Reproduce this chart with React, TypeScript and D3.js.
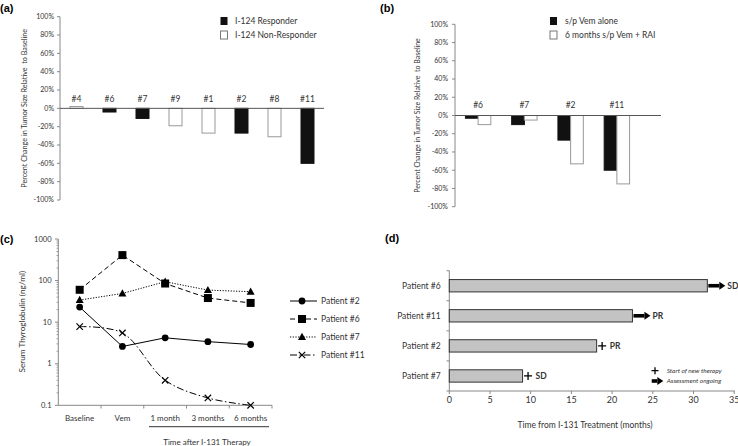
import React, { useEffect } from "react";
import * as d3 from "d3";

// (a) tumor size change per patient
const aPatients = ["#4", "#6", "#7", "#9", "#1", "#2", "#8", "#11"];
const aChange = [2, -4, -11, -19, -27, -27, -31, -60];
const aResponder = [false, true, true, false, false, true, false, true];

// (b) vem alone vs vem + RAI
const bPatients = ["#6", "#7", "#2", "#11"];
const bVemAlone = [-3, -10, -27, -60];
const bVemRai = [-10, -5, -53, -75];

// (c) serum thyroglobulin
const cTimes = ["Baseline", "Vem", "1 month", "3 months", "6 months"];
const cPatient2 = [23, 2.6, 4.2, 3.4, 2.9];
const cPatient6 = [60, 410, 85, 38, 29];
const cPatient7 = [34, 49, 94, 59, 54];
const cPatient11 = [7.8, 5.5, 0.4, 0.15, 0.1];

// (d) time from I-131 treatment
const dPatients = ["Patient #6", "Patient #11", "Patient #2", "Patient #7"];
const dMonths = [31.7, 22.5, 18.1, 9.0];
const dStatus = ["SD", "PR", "PR", "SD"];
const dOngoing = [true, true, false, false];

const pctTicks = [-100, -80, -60, -40, -20, 0, 20, 40, 60, 80, 100];
const FONT = "Lato, 'Open Sans', sans-serif";
const TXT = "#333";
const AX = "#888";

function Plus({ x, y, s = 4 }: { x: number; y: number; s?: number }) {
  return (
    <path
      d={`M${x - s},${y} L${x + s},${y} M${x},${y - s} L${x},${y + s}`}
      stroke="#000"
      strokeWidth={1.3}
    />
  );
}

function Arrow({ x0, x1, y }: { x0: number; x1: number; y: number }) {
  const head = 6;
  return (
    <g>
      <line x1={x0} x2={x1 - head} y1={y} y2={y} stroke="#000" strokeWidth={3.6} />
      <path d={`M${x1 - head},${y - 4} L${x1},${y} L${x1 - head},${y + 4} Z`} fill="#000" />
    </g>
  );
}

function Marker({ kind, x, y }: { kind: string; x: number; y: number }) {
  if (kind === "circle") return <circle cx={x} cy={y} r={3.4} fill="#000" />;
  if (kind === "square") return <rect x={x - 4} y={y - 4} width={8} height={8} fill="#000" />;
  if (kind === "triangle")
    return <path d={`M${x},${y - 4.2} L${x + 4},${y + 3} L${x - 4},${y + 3} Z`} fill="#000" />;
  return (
    <path
      d={`M${x - 3.2},${y - 3.2} L${x + 3.2},${y + 3.2} M${x - 3.2},${y + 3.2} L${x + 3.2},${y - 3.2}`}
      stroke="#000"
      strokeWidth={1.2}
    />
  );
}

function PanelA() {
  const x = d3.scaleBand().domain(aPatients).range([60, 324]).padding(0);
  const y = d3.scaleLinear().domain([-100, 100]).range([200, 16.7]);
  const bw = 13;
  return (
    <g fontFamily={FONT}>
      <text x={0} y={12} fontFamily="'Liberation Sans', Arial, sans-serif" fontWeight="bold" fontSize={11} fill="#000">
        (a)
      </text>
      <line x1={60} x2={60} y1={y(100)} y2={y(-100)} stroke={AX} />
      {pctTicks.map((t) => (
        <g key={t}>
          <line x1={57} x2={60} y1={y(t)} y2={y(t)} stroke={AX} />
          <text x={54} y={y(t)} dy="0.35em" textAnchor="end" fontSize={7} fill={TXT}>
            {t + "%"}
          </text>
        </g>
      ))}
      <text
        transform={`translate(24,${y(0)}) rotate(-90)`}
        textAnchor="middle"
        dy="0.35em"
        fontSize={7.2}
        fill={TXT}
        xmlSpace="preserve"
      >
        {"Percent Change in Tumor Size Relative  to Baseline"}
      </text>
      {aPatients.map((p, i) => {
        const cx = (x(p) as number) + x.bandwidth() / 2;
        const v = aChange[i];
        const y0 = Math.min(y(0), y(v));
        const h = Math.abs(y(v) - y(0));
        return (
          <g key={p}>
            <rect
              x={cx - bw / 2}
              y={y0}
              width={bw}
              height={h}
              fill={aResponder[i] ? "#111" : "#fff"}
              stroke={aResponder[i] ? "#111" : "#999"}
              strokeWidth={1}
            />
            <text x={cx} y={y(0) - 6} textAnchor="middle" fontSize={8.5} fill={TXT}>
              {p}
            </text>
          </g>
        );
      })}
      <line x1={60} x2={324} y1={y(0)} y2={y(0)} stroke="#555" />
      <rect x={220.5} y={17} width={7} height={8} fill="#111" />
      <rect x={220.5} y={31} width={7} height={8} fill="#fff" stroke="#777" />
      <text x={235} y={21} dy="0.35em" fontSize={8.5} fill={TXT}>I-124 Responder</text>
      <text x={235} y={35} dy="0.35em" fontSize={8.5} fill={TXT}>I-124 Non-Responder</text>
    </g>
  );
}

function PanelB() {
  const x = d3.scaleBand().domain(bPatients).range([455, 640]).padding(0);
  const y = d3.scaleLinear().domain([-100, 100]).range([206.7, 24.3]);
  const bw = 12.7;
  return (
    <g fontFamily={FONT}>
      <text x={380} y={12} fontFamily="'Liberation Sans', Arial, sans-serif" fontWeight="bold" fontSize={11} fill="#000">
        (b)
      </text>
      <line x1={455} x2={455} y1={y(100)} y2={y(-100)} stroke={AX} />
      {pctTicks.map((t) => (
        <g key={t}>
          <line x1={452} x2={455} y1={y(t)} y2={y(t)} stroke={AX} />
          <text x={448} y={y(t)} dy="0.35em" textAnchor="end" fontSize={7} fill={TXT}>
            {t + "%"}
          </text>
        </g>
      ))}
      <text
        transform={`translate(418,${y(0)}) rotate(-90)`}
        textAnchor="middle"
        dy="0.35em"
        fontSize={7}
        fill={TXT}
        xmlSpace="preserve"
      >
        {"Percent Change in Tumor Size Relative  to Baseline"}
      </text>
      {bPatients.map((p, i) => {
        const cx = (x(p) as number) + x.bandwidth() / 2;
        return (
          <g key={p}>
            <rect x={cx - bw} y={y(0)} width={bw} height={y(bVemAlone[i]) - y(0)} fill="#111" stroke="#111" />
            <rect x={cx} y={y(0)} width={bw} height={y(bVemRai[i]) - y(0)} fill="#fff" stroke="#999" />
            <text x={cx} y={y(0) - 8} textAnchor="middle" fontSize={8.5} fill={TXT}>
              {p}
            </text>
          </g>
        );
      })}
      <line x1={455} x2={661} y1={y(0)} y2={y(0)} stroke="#555" />
      <rect x={550} y={17} width={7} height={8} fill="#111" />
      <rect x={550} y={31} width={7} height={8} fill="#fff" stroke="#777" />
      <text x={565} y={21} dy="0.35em" fontSize={8.5} fill={TXT}>s/p Vem alone</text>
      <text x={565} y={35} dy="0.35em" fontSize={8.5} fill={TXT}>6 months s/p Vem + RAI</text>
    </g>
  );
}

function PanelC() {
  const x = d3.scaleBand().domain(cTimes).range([58.3, 272]).padding(0);
  const y = d3.scaleLog().domain([0.1, 1000]).range([405.3, 239]);
  const cx = (t: string) => (x(t) as number) + x.bandwidth() / 2;
  const series = [
    { name: "Patient #2", values: cPatient2, dash: "", marker: "circle", smooth: false },
    { name: "Patient #6", values: cPatient6, dash: "5,3", marker: "square", smooth: false },
    { name: "Patient #7", values: cPatient7, dash: "1.2,1.5", marker: "triangle", smooth: false },
    { name: "Patient #11", values: cPatient11, dash: "7,2.5,1.5,2.5", marker: "x", smooth: true },
  ];
  const majors = [0.1, 1, 10, 100, 1000];
  const minors: number[] = [];
  [0.1, 1, 10, 100].forEach((m) => {
    for (let k = 2; k <= 9; k++) minors.push(m * k);
  });
  return (
    <g fontFamily={FONT}>
      <text x={0} y={243} fontFamily="'Liberation Sans', Arial, sans-serif" fontWeight="bold" fontSize={11} fill="#000">
        (c)
      </text>
      <line x1={58.3} x2={58.3} y1={239} y2={405.3} stroke={AX} />
      {minors.map((t) => (
        <line key={t} x1={56.5} x2={58.3} y1={y(t)} y2={y(t)} stroke={AX} strokeWidth={0.8} />
      ))}
      {majors.map((t) => (
        <g key={t}>
          <line x1={55} x2={58.3} y1={y(t)} y2={y(t)} stroke={AX} />
          <text x={51.5} y={y(t)} dy="0.35em" textAnchor="end" fontSize={7.5} fill={TXT}>
            {String(t)}
          </text>
        </g>
      ))}
      <text
        transform={`translate(22,321.7) rotate(-90)`}
        textAnchor="middle"
        dy="0.35em"
        fontSize={8.2}
        fill={TXT}
      >
        Serum Thyroglobulin (ng/ml)
      </text>
      <line x1={58.3} x2={272} y1={405.3} y2={405.3} stroke={AX} />
      {cTimes.map((t) => (
        <g key={t}>
          <line x1={(x(t) as number) + x.bandwidth()} x2={(x(t) as number) + x.bandwidth()} y1={405.3} y2={408.5} stroke={AX} />
          <text x={cx(t)} y={418} dy="0.35em" textAnchor="middle" fontSize={8} fill={TXT}>
            {t}
          </text>
        </g>
      ))}
      <line x1={149} x2={269} y1={426.7} y2={426.7} stroke="#333" />
      <text x={207} y={442} dy="0.35em" textAnchor="middle" fontSize={8} fill={TXT}>
        Time after I-131 Therapy
      </text>
      {series.map((s) => {
        const line = d3
          .line<number>()
          .x((_, i) => cx(cTimes[i]))
          .y((v) => y(v))
          .curve(s.smooth ? d3.curveCatmullRom.alpha(0.5) : d3.curveLinear);
        return (
          <g key={s.name}>
            <path d={line(s.values) || ""} fill="none" stroke="#000" strokeWidth={1} strokeDasharray={s.dash} />
            {s.values.map((v, i) => (
              <Marker key={i} kind={s.marker} x={cx(cTimes[i])} y={y(v)} />
            ))}
          </g>
        );
      })}
      {series.map((s, i) => {
        const ly = 301 + i * 18;
        return (
          <g key={s.name}>
            <line x1={290} x2={317} y1={ly} y2={ly} stroke="#000" strokeWidth={1} strokeDasharray={s.dash} />
            <Marker kind={s.marker} x={302} y={ly} />
            <text x={321} y={ly} dy="0.35em" fontSize={8.5} fill={TXT}>
              {s.name}
            </text>
          </g>
        );
      })}
    </g>
  );
}

function PanelD() {
  const x = d3.scaleLinear().domain([0, 35]).range([449.3, 734.2]);
  const y = d3.scaleBand().domain(dPatients).range([270.7, 391]).padding(0);
  const bh = y.bandwidth() * 0.41;
  return (
    <g fontFamily={FONT}>
      <text x={385} y={242} fontFamily="'Liberation Sans', Arial, sans-serif" fontWeight="bold" fontSize={11} fill="#000">
        (d)
      </text>
      <line x1={449.3} x2={449.3} y1={270.7} y2={391} stroke={AX} />
      {[...dPatients.map((p) => y(p) as number), 391].map((v, i) => (
        <line key={i} x1={446.5} x2={449.3} y1={v} y2={v} stroke={AX} />
      ))}
      <line x1={449.3} x2={735} y1={391} y2={391} stroke={AX} />
      {x.ticks(7).map((t) => (
        <g key={t}>
          <line x1={x(t)} x2={x(t)} y1={391} y2={394} stroke={AX} />
          <text x={x(t)} y={400} dy="0.35em" textAnchor="middle" fontSize={9} fill={TXT}>
            {t}
          </text>
        </g>
      ))}
      <text x={585} y={425} dy="0.35em" textAnchor="middle" fontSize={8.5} fill={TXT}>
        Time from I-131 Treatment (months)
      </text>
      {dPatients.map((p, i) => {
        const cy = (y(p) as number) + y.bandwidth() / 2;
        const end = x(dMonths[i]);
        const labelX = dOngoing[i] ? end + 20 : end + 13;
        return (
          <g key={p}>
            <text x={440.7} y={cy} dy="0.35em" textAnchor="end" fontSize={8.5} fill={TXT}>
              {p}
            </text>
            <rect x={449.3} y={cy - bh / 2} width={end - 449.3} height={bh} fill="#c3c3c3" stroke="#333" strokeWidth={1} />
            {dOngoing[i] ? <Arrow x0={end + 1} x1={end + 18} y={cy} /> : <Plus x={end + 5.5} y={cy} />}
            <text x={labelX} y={cy} dy="0.35em" fontSize={8.5} fontWeight="bold" fill={TXT}>
              {dStatus[i]}
            </text>
          </g>
        );
      })}
      <Plus x={655} y={370.7} s={3.5} />
      <text x={666.7} y={370.7} dy="0.35em" fontSize={6.5} fontStyle="italic" fill={TXT}>
        Start of new therapy
      </text>
      <Arrow x0={651.7} x1={663.3} y={381} />
      <text x={666.7} y={381} dy="0.35em" fontSize={6.5} fontStyle="italic" fill={TXT}>
        Assessment ongoing
      </text>
    </g>
  );
}

export default function App() {
  useEffect(() => {
    document.body.style.margin = "0";
  }, []);
  return (
    <svg width={738} height={446} style={{ display: "block", background: "#fff" }}>
      <rect width={738} height={446} fill="#fff" />
      <PanelA />
      <PanelB />
      <PanelC />
      <PanelD />
    </svg>
  );
}
